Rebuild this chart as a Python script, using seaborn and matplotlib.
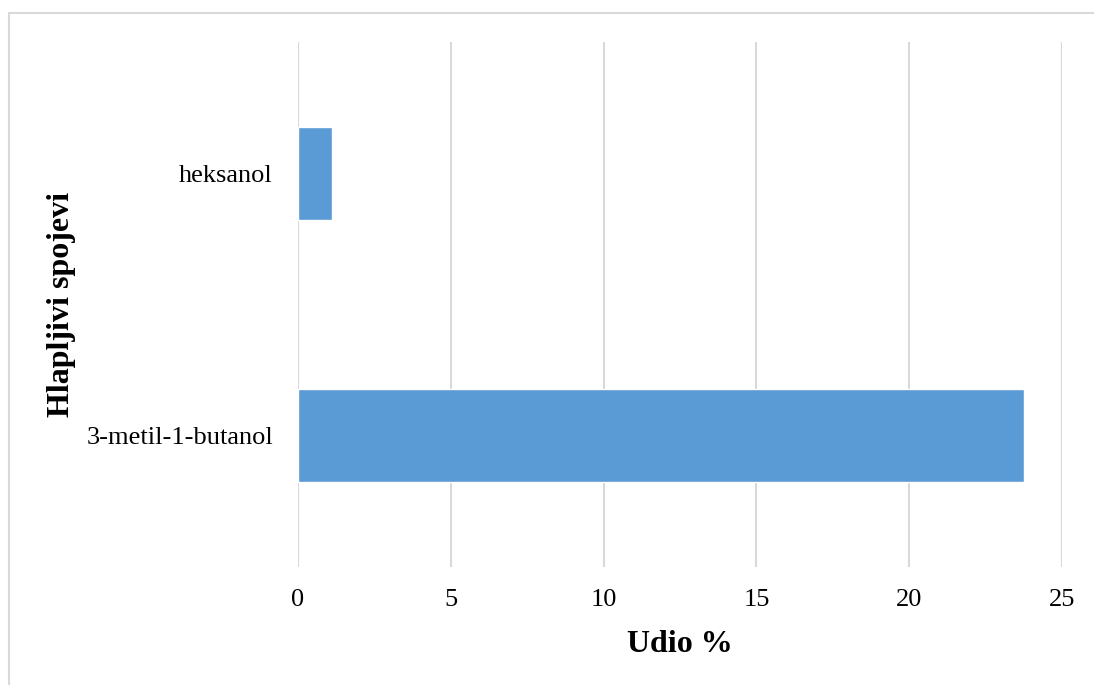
import matplotlib
matplotlib.use("Agg")
import matplotlib.pyplot as plt
import seaborn as sns
import pandas as pd
from matplotlib.patches import Rectangle

# values
compounds = ['heksanol', '3-metil-1-butanol']
shares = [1.1, 23.75]
x_ticks = [0, 5, 10, 15, 20, 25]

BAR_COLOR = '#5B9BD5'
GRID_COLOR = '#D9D9D9'

sns.set_theme(style='white')
plt.rcParams['font.family'] = ['Liberation Serif', 'DejaVu Serif']

df = pd.DataFrame({'spoj': compounds, 'udio': shares})

fig = plt.figure(figsize=(10.94, 6.85), dpi=100)
ax = fig.add_axes([298 / 1094, 1 - 567 / 685, 764 / 1094, 525 / 685])

sns.barplot(data=df, x='udio', y='spoj', order=compounds, color=BAR_COLOR,
            width=0.355, saturation=1, ax=ax, zorder=3)

ax.set_xlim(0, 25)
ax.set_ylim(1.5, -0.5)
ax.set_xticks(x_ticks)
ax.xaxis.grid(True, color=GRID_COLOR, linewidth=1.5)
ax.yaxis.grid(False)
ax.set_axisbelow(True)
for s in ax.spines.values():
    s.set_visible(False)

ax.tick_params(axis='x', length=0, pad=16, labelsize=19, labelcolor='black')
ax.tick_params(axis='y', length=0, pad=18, labelsize=19, labelcolor='black')

ax.set_xlabel('Udio %', fontsize=23, fontweight='bold', color='black')
ax.set_ylabel('Hlapljivi spojevi', fontsize=23, fontweight='bold', color='black')
ax.xaxis.set_label_coords(0.5, -0.12)
ax.yaxis.set_label_coords(-0.29, 0.5)

# light frame around the chart area (cut on the right and bottom)
fig.patches.append(Rectangle((8.5 / 1094, -0.1), 1.2, (685 - 13) / 685 + 0.1,
                             transform=fig.transFigure, fill=False,
                             edgecolor=GRID_COLOR, linewidth=1.5))

fig.savefig('out.png', dpi=100)
